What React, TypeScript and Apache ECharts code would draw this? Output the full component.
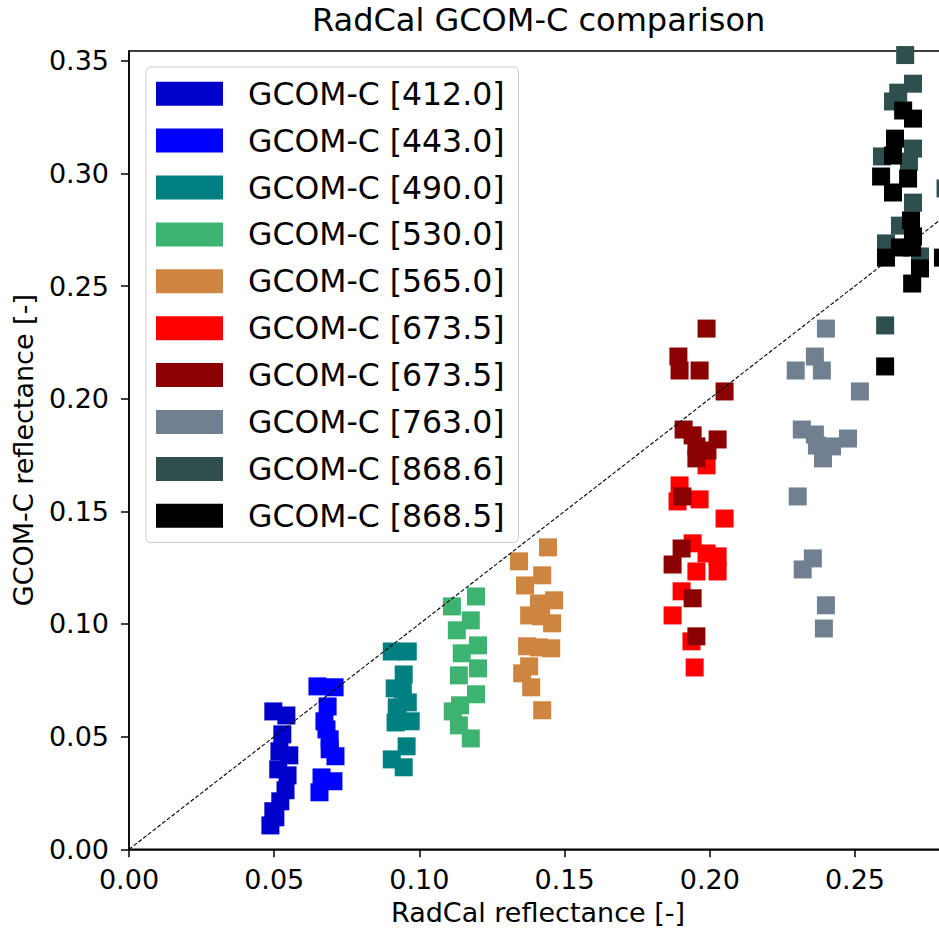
import React, { useEffect, useRef } from "react";
import * as echarts from "echarts";

const titleText = "RadCal GCOM-C comparison";
const xAxisName = "RadCal reflectance [-]";
const yAxisName = "GCOM-C reflectance [-]";

const seriesIds = ["b412", "b443", "b490", "b530", "b565", "b673r", "b673d", "b763", "b8686", "b8685"];
const legendLabels = [
  "GCOM-C [412.0]",
  "GCOM-C [443.0]",
  "GCOM-C [490.0]",
  "GCOM-C [530.0]",
  "GCOM-C [565.0]",
  "GCOM-C [673.5]",
  "GCOM-C [673.5]",
  "GCOM-C [763.0]",
  "GCOM-C [868.6]",
  "GCOM-C [868.5]",
];
const seriesColors = ["#0000CD", "#0000FF", "#008080", "#3CB371", "#CD853F", "#FF0000", "#8B0000", "#708090", "#2F4F4F", "#000000"];

const x412 = [0.0497, 0.0542, 0.0528, 0.0518, 0.0552, 0.0514, 0.0546, 0.0539, 0.0521, 0.0497, 0.0487, 0.0504];
const y412 = [0.0612, 0.0594, 0.051, 0.0435, 0.0417, 0.0355, 0.0328, 0.0262, 0.0213, 0.0169, 0.0106, 0.0142];

const x443 = [0.0649, 0.0708, 0.0684, 0.0673, 0.0691, 0.0711, 0.0663, 0.0704, 0.0656, 0.0691, 0.068];
const y443 = [0.0723, 0.0719, 0.0634, 0.0568, 0.0488, 0.0413, 0.0319, 0.0302, 0.0253, 0.0444, 0.0532];

const x490 = [0.0905, 0.096, 0.0946, 0.0915, 0.096, 0.0922, 0.097, 0.0918, 0.0943, 0.0956, 0.0905, 0.0946, 0.0925];
const y490 = [0.0878, 0.0878, 0.0776, 0.0714, 0.0652, 0.063, 0.0568, 0.0563, 0.071, 0.0457, 0.0399, 0.0364, 0.0594];

const x530 = [0.1112, 0.1195, 0.1177, 0.1129, 0.1202, 0.1146, 0.1202, 0.1136, 0.1195, 0.114, 0.1115, 0.1136, 0.1177];
const y530 = [0.1078, 0.1122, 0.1016, 0.0972, 0.0905, 0.087, 0.0803, 0.0772, 0.0688, 0.0639, 0.0612, 0.055, 0.0492];

const x565 = [0.1443, 0.1343, 0.1423, 0.1364, 0.1464, 0.1412, 0.1378, 0.1457, 0.1419, 0.1371, 0.1454, 0.1378, 0.1354, 0.1385, 0.1423, 0.1412];
const y565 = [0.134, 0.1278, 0.1216, 0.1171, 0.1105, 0.1091, 0.1038, 0.1003, 0.1034, 0.0901, 0.0892, 0.0812, 0.0781, 0.0719, 0.0617, 0.0896];

const x673r = [0.1989, 0.1896, 0.1889, 0.1965, 0.2051, 0.1941, 0.1989, 0.2027, 0.1954, 0.2027, 0.1903, 0.1872, 0.1937, 0.1948];
const y673r = [0.1704, 0.1615, 0.1544, 0.1553, 0.1468, 0.1358, 0.1313, 0.13, 0.1233, 0.1233, 0.1145, 0.1038, 0.0923, 0.0807];

const x673d = [0.1989, 0.1892, 0.1896, 0.1965, 0.2051, 0.191, 0.1941, 0.2027, 0.1954, 0.1992, 0.1954, 0.1906, 0.1903, 0.1872, 0.1941, 0.1954];
const y673d = [0.2311, 0.2187, 0.2125, 0.2125, 0.2032, 0.1863, 0.1837, 0.1819, 0.1788, 0.177, 0.1735, 0.1566, 0.1335, 0.1264, 0.1114, 0.0945];

const x763 = [0.24, 0.2362, 0.2296, 0.2386, 0.2517, 0.2317, 0.2362, 0.2476, 0.2369, 0.2421, 0.239, 0.2303, 0.2355, 0.232, 0.24, 0.2393];
const y763 = [0.2311, 0.2187, 0.2125, 0.2125, 0.2032, 0.1863, 0.1841, 0.1823, 0.1792, 0.1788, 0.1735, 0.1566, 0.1291, 0.1242, 0.1083, 0.098];

const x8686 = [0.2673, 0.27, 0.2631, 0.2649, 0.27, 0.2593, 0.2686, 0.27, 0.2655, 0.2607, 0.2724, 0.2604, 0.2812];
const y8686 = [0.3525, 0.3398, 0.3319, 0.3358, 0.311, 0.3075, 0.3052, 0.287, 0.2768, 0.2689, 0.2631, 0.2325, 0.2933];

const x8685 = [0.2666, 0.27, 0.2638, 0.2631, 0.259, 0.2683, 0.2631, 0.2693, 0.27, 0.2655, 0.2607, 0.2697, 0.2724, 0.2697, 0.2604, 0.2803];
const y8685 = [0.3279, 0.3243, 0.3154, 0.3079, 0.2986, 0.2977, 0.2915, 0.2791, 0.272, 0.2671, 0.2626, 0.2671, 0.2578, 0.2511, 0.2143, 0.2626];

const xValues = [x412, x443, x490, x530, x565, x673r, x673d, x763, x8686, x8685];
const yValues = [y412, y443, y490, y530, y565, y673r, y673d, y763, y8686, y8685];

const oneToOne = [
  [0, 0],
  [0.4, 0.4],
];

const FONT = "DejaVu Sans";

export default function App() {
  const ref = useRef<HTMLDivElement>(null);

  useEffect(() => {
    document.body.style.margin = "0";
    const chart = echarts.init(ref.current as HTMLDivElement, null, { renderer: "svg" });

    const labelMap: Record<string, string> = {};
    seriesIds.forEach((id, i) => (labelMap[id] = legendLabels[i]));

    const scatterSeries = seriesIds.map((id, i) => ({
      type: "scatter",
      name: id,
      symbol: "rect",
      symbolSize: 18,
      itemStyle: { color: seriesColors[i], opacity: 1 },
      data: xValues[i].map((x, j) => [x, yValues[i][j]]),
      z: 2,
    }));

    chart.setOption({
      animation: false,
      backgroundColor: "#ffffff",
      textStyle: { fontFamily: FONT },
      title: {
        text: titleText,
        left: 312,
        top: 4,
        padding: 0,
        textStyle: { fontFamily: FONT, fontSize: 32, fontWeight: "normal", color: "#000" },
      },
      grid: {
        left: 129,
        top: 51,
        right: -8,
        bottom: 81.7,
        containLabel: false,
        outerBoundsMode: "none",
        show: true,
        borderColor: "#000",
        borderWidth: 1.5,
        backgroundColor: "transparent",
      },
      legend: {
        orient: "vertical",
        left: 146,
        top: 67,
        padding: [10.7, 14, 10.7, 10],
        itemWidth: 67,
        itemHeight: 24,
        itemGap: 14.9,
        icon: "rect",
        backgroundColor: "rgba(255,255,255,0.85)",
        borderColor: "#cccccc",
        borderWidth: 1,
        borderRadius: 5,
        data: seriesIds,
        formatter: (name: string) => labelMap[name],
        textStyle: { fontFamily: FONT, fontSize: 31.5, color: "#000", lineHeight: 30, padding: [0, 0, 0, 20] },
        selectedMode: false,
        z: 20,
      },
      xAxis: {
        type: "value",
        min: 0,
        max: 0.2817,
        interval: 0.05,
        name: xAxisName,
        nameLocation: "middle",
        nameGap: 50,
        nameTextStyle: { fontFamily: FONT, fontSize: 27, color: "#000" },
        axisLine: { show: true, onZero: false, lineStyle: { color: "#000", width: 1.5 } },
        axisTick: { show: true, inside: false, length: 8, lineStyle: { color: "#000", width: 1.5 } },
        axisLabel: {
          fontFamily: FONT,
          fontSize: 27,
          color: "#000",
          margin: 17,
          showMaxLabel: false,
          formatter: (v: number) => v.toFixed(2),
        },
        splitLine: { show: false },
      },
      yAxis: {
        type: "value",
        min: 0,
        max: 0.3543,
        interval: 0.05,
        name: yAxisName,
        nameLocation: "middle",
        nameGap: 92,
        nameTextStyle: { fontFamily: FONT, fontSize: 27, color: "#000" },
        axisLine: { show: true, onZero: false, lineStyle: { color: "#000", width: 1.5 } },
        axisTick: { show: true, inside: false, length: 8, lineStyle: { color: "#000", width: 1.5 } },
        axisLabel: {
          fontFamily: FONT,
          fontSize: 27,
          color: "#000",
          margin: 20,
          showMaxLabel: false,
          formatter: (v: number) => v.toFixed(2),
        },
        splitLine: { show: false },
      },
      series: [
        ...scatterSeries,
        {
          type: "line",
          name: "1:1",
          data: oneToOne,
          symbol: "none",
          silent: true,
          clip: true,
          z: 5,
          lineStyle: { color: "#000", width: 1.1, type: [4, 2] },
        },
      ],
    });

    return () => chart.dispose();
  }, []);

  return <div ref={ref} style={{ position: "absolute", left: 0, top: 0, width: 939, height: 931 }} />;
}
